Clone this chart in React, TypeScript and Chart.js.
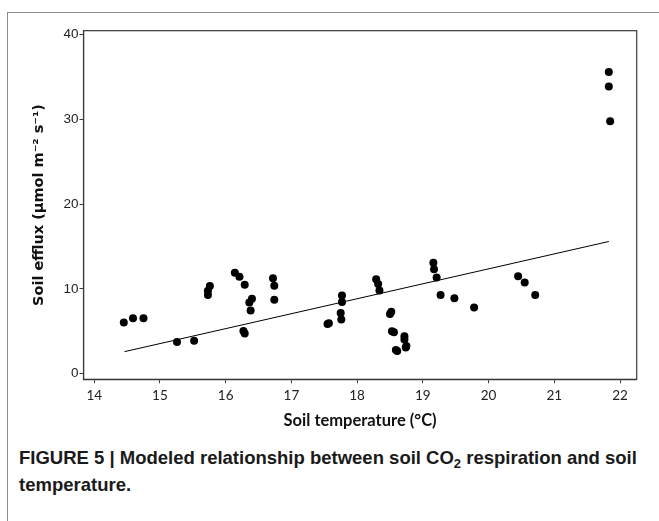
import React, { useEffect, useRef } from "react";
import { Chart, registerables } from "chart.js";

Chart.register(...registerables);

// Observed points: soil temperature (°C) and soil efflux (µmol m-2 s-1)
const soilTemp = [
  14.45, 14.59, 14.75, 15.26, 15.52, 15.73, 15.73, 15.76,
  16.14, 16.21, 16.29, 16.27, 16.29, 16.36, 16.4, 16.38,
  16.72, 16.74, 16.74, 17.55, 17.57, 17.76, 17.75, 17.77, 17.77,
  18.29, 18.32, 18.34, 18.52, 18.5, 18.53, 18.56, 18.59, 18.61,
  18.72, 18.72, 18.75, 18.74, 19.16, 19.17, 19.21, 19.27, 19.48,
  19.78, 20.45, 20.55, 20.71, 21.83, 21.83, 21.85,
];
const soilEfflux = [
  6.05, 6.55, 6.55, 3.75, 3.9, 9.3, 9.8, 10.35,
  11.9, 11.45, 10.5, 5.05, 4.75, 8.4, 8.85, 7.45,
  11.27, 10.38, 8.73, 5.85, 5.95, 6.4, 7.15, 8.46, 9.23,
  11.15, 10.58, 9.81, 7.31, 7.04, 5.0, 4.88, 2.81, 2.69,
  4.42, 4.04, 3.27, 3.1, 13.08, 12.31, 11.35, 9.3, 8.9,
  7.8, 11.5, 10.75, 9.3, 35.6, 33.9, 29.8,
];

// Modeled (fitted) line end points
const fitTemp = [14.46, 21.83];
const fitEfflux = [2.6, 15.6];

const xTicks = [14, 15, 16, 17, 18, 19, 20, 21, 22];
const yTicks = [0, 10, 20, 30, 40];

export default function App() {
  const ref = useRef<HTMLCanvasElement>(null);

  useEffect(() => {
    document.body.style.margin = "0";
    const boxPlugin = {
      id: "plotBox",
      afterDraw(chart: any) {
        const { ctx, chartArea: a } = chart;
        ctx.save();
        ctx.strokeStyle = "#3a3a3a";
        ctx.lineWidth = 1.2;
        ctx.strokeRect(a.left, a.top, a.right - a.left, a.bottom - a.top);
        ctx.restore();
      },
    };
    const chart = new Chart(ref.current as HTMLCanvasElement, {
      type: "scatter",
      data: {
        datasets: [
          {
            type: "scatter",
            data: soilTemp.map((x, i) => ({ x, y: soilEfflux[i] })),
            backgroundColor: "#000",
            borderColor: "#000",
            borderWidth: 0,
            pointRadius: 4,
            pointHoverRadius: 4,
          },
          {
            type: "line",
            data: fitTemp.map((x, i) => ({ x, y: fitEfflux[i] })),
            borderColor: "#000",
            borderWidth: 1,
            pointRadius: 0,
            fill: false,
          } as any,
        ],
      },
      options: {
        animation: false,
        responsive: false,
        events: [],
        layout: { padding: { left: 0, right: 22.3, top: 30.7, bottom: 0 } },
        plugins: { legend: { display: false }, tooltip: { enabled: false } },
        scales: {
          x: {
            type: "linear",
            min: 13.837,
            max: 22.254,
            afterFit: (s: any) => {
              s.height = 60.7;
            },
            afterBuildTicks: (s: any) => {
              s.ticks = xTicks.map((v) => ({ value: v }));
            },
            ticks: {
              padding: 4,
              color: "#222",
              font: { family: "Lato", size: 13.5 },
            },
            grid: {
              drawOnChartArea: false,
              drawTicks: true,
              tickLength: 4,
              color: "#3a3a3a",
            },
            border: { display: true, color: "#3a3a3a", width: 1.2 },
            title: {
              display: true,
              text: "Soil temperature (°C)",
              color: "#111",
              font: { family: "Lato", size: 16.5, weight: "bold" },
              padding: { top: 0, bottom: 9 },
            },
          },
          y: {
            type: "linear",
            min: -0.66,
            max: 40.47,
            afterFit: (s: any) => {
              s.width = 83.5;
            },
            afterBuildTicks: (s: any) => {
              s.ticks = yTicks.map((v) => ({ value: v }));
            },
            ticks: {
              padding: 1,
              color: "#222",
              font: { family: "Liberation Sans", size: 13.5 },
            },
            grid: {
              drawOnChartArea: false,
              drawTicks: true,
              tickLength: 4,
              color: "#3a3a3a",
            },
            border: { display: true, color: "#3a3a3a", width: 1.2 },
            title: {
              display: true,
              text: "Soil efflux (µmol m⁻² s⁻¹)",
              color: "#111",
              font: { family: "DejaVu Sans", size: 14.5, weight: "bold" },
              padding: { top: 31, bottom: 0 },
            },
          },
        },
      },
      plugins: [boxPlugin],
    });
    return () => chart.destroy();
  }, []);

  return (
    <div
      style={{
        position: "relative",
        width: 659,
        height: 521,
        overflow: "hidden",
        background: "#fff",
      }}
    >
      <div
        style={{
          position: "absolute",
          left: 7,
          top: 12,
          width: 700,
          height: 600,
          borderLeft: "1.5px solid #8a8a8a",
          borderTop: "1.5px solid #8a8a8a",
        }}
      />
      <canvas
        ref={ref}
        width={659}
        height={440}
        style={{ position: "absolute", left: 0, top: 0, width: 659, height: 440 }}
      />
      <div
        style={{
          position: "absolute",
          left: 19,
          top: 444,
          width: 640,
          fontFamily: "'Liberation Sans', Arial, sans-serif",
          fontWeight: "bold",
          fontSize: 18.5,
          lineHeight: "27px",
          color: "#1a1a1a",
          whiteSpace: "nowrap",
        }}
      >
        FIGURE 5 | Modeled relationship between soil CO
        <sub style={{ fontSize: 13, lineHeight: 0, verticalAlign: "-4px" }}>2</sub> respiration and soil
        <br />
        temperature.
      </div>
    </div>
  );
}
